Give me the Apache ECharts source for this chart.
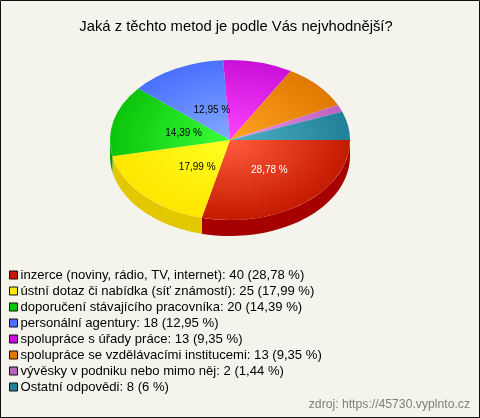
<!DOCTYPE html>
<html><head><meta charset="utf-8">
<style>html,body{margin:0;padding:0;background:#f5f4ec}#c{width:480px;height:418px}</style>
<script src="https://cdn.jsdelivr.net/npm/echarts@6/dist/echarts.min.js"></script>
</head><body><div id="c"></div>
<script>
const titleText = 'Jaká z těchto metod je podle Vás nejvhodnější?';
const sourceText = 'zdroj: https://45730.vyplnto.cz';
const categories = ['inzerce (noviny, rádio, TV, internet)','ústní dotaz či nabídka (síť známostí)','doporučení stávajícího pracovníka','personální agentury','spolupráce s úřady práce','spolupráce se vzdělávacími institucemi','vývěsky v podniku nebo mimo něj','Ostatní odpovědi'];
const values = [40,25,20,18,13,13,2,8];
const percents = ['28,78','17,99','14,39','12,95','9,35','9,35','1,44','6'];
const shownLabels = [true,true,true,true,false,false,false,false];
const labelColors = ['#fff','#000','#000','#000','#000','#000','#000','#000'];
const baseColors = ['#c41a00','#ffe600','#0cc40c','#4a70ff','#c810d8','#e07800','#c060c0','#208098'];
const lightColors = ['#ff5c3c','#ffff20','#38ff38','#84aaff','#ff44ff','#ffa424','#e494e4','#50b0c8'];
const wallColors = ['#a60000','#e3c800','#0a9a0a','#3050c0','#9000a0','#b06000','#905090','#106070'];

const cx = 230, cy = 140, rx = 120, ry = 80, depth = 16;
const total = values.reduce((a,b)=>a+b,0);
const startOf = i => values.slice(0,i).reduce((a,b)=>a+b,0)/total*Math.PI*2;
const endOf = i => startOf(i+1);
const names = categories.map((c,i)=>`${c}: ${values[i]} (${percents[i]} %)`);

const sliceSeries = values.map((v,i)=>({
  type:'custom', name:names[i], coordinateSystem:'none', silent:true, z:3,
  itemStyle:{color:baseColors[i]}, data:[v],
  renderItem(){
    return {type:'sector', x:cx, y:cy, scaleY:ry/rx,
      shape:{cx:0,cy:0,r:rx,r0:0,startAngle:startOf(i),endAngle:endOf(i),clockwise:true},
      style:{fill:new echarts.graphic.RadialGradient(0,0,rx,[{offset:0,color:lightColors[i]},{offset:1,color:baseColors[i]}],true)}};
  }
}));
const wallSeries = {
  type:'custom', name:'wall', coordinateSystem:'none', silent:true, z:2, data:values,
  renderItem(p){
    const i=p.dataIndex, a=startOf(i), b=Math.min(endOf(i),Math.PI);
    if(a>=Math.PI) return {type:'group',children:[]};
    const top=[],bot=[];
    for(let k=0;k<=48;k++){const t=a+(b-a)*k/48,x=cx+rx*Math.cos(t),y=cy+ry*Math.sin(t);top.push([x,y]);bot.unshift([x,y+depth]);}
    return {type:'polygon',shape:{points:top.concat(bot)},style:{fill:wallColors[i]}};
  }
};
const labelSeries = {
  type:'custom', name:'labels', coordinateSystem:'none', silent:true, z:4, data:values,
  renderItem(p){
    const i=p.dataIndex;
    if(!shownLabels[i]) return {type:'group',children:[]};
    const m=(startOf(i)+endOf(i))/2;
    return {type:'text',x:cx+rx*.45*Math.cos(m)+6,y:cy+ry*.45*Math.sin(m)+2,
      style:{text:percents[i]+' %',fill:labelColors[i],font:'10px "Liberation Sans"',align:'center',verticalAlign:'middle'}};
  }
};
const chart = echarts.init(document.getElementById('c'),null,{renderer:'canvas'});
chart.setOption({
  animation:false,
  backgroundColor:'#f5f4ec',
  title:[{text:titleText,left:236,top:19,padding:0,textAlign:'center',textStyle:{fontFamily:'Liberation Sans',fontSize:14.8,fontWeight:'normal',color:'#000'}},
         {text:sourceText,right:10,top:399,padding:0,textStyle:{fontFamily:'Liberation Sans',fontSize:12.2,fontWeight:'normal',color:'#808078'}}],
  legend:{orient:'vertical',left:9,top:267,padding:0,itemWidth:8,itemHeight:8,itemGap:0,selectedMode:false,icon:'rect',
    data:names,
    itemStyle:{borderColor:'#111',borderWidth:1},
    textStyle:{fontFamily:'Liberation Sans',fontSize:13.1,color:'#000',lineHeight:16,padding:[0,0,0,-2]}},
  graphic:[{type:'rect',z:100,silent:true,shape:{x:.5,y:.5,width:479,height:417},style:{fill:'none',stroke:'#111',lineWidth:1}}],
  series:[wallSeries,...sliceSeries,labelSeries]
});
</script></body></html>
